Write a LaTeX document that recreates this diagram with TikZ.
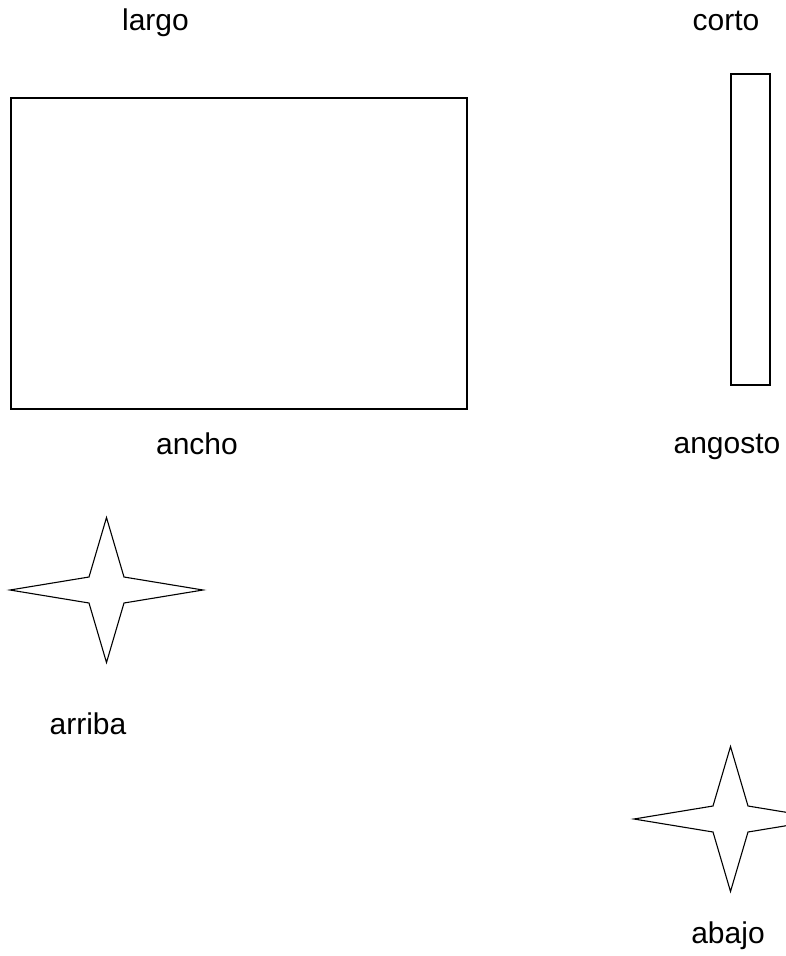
\documentclass[tikz,border=0pt]{standalone}
\usepackage{fontspec}
\setmainfont{Liberation Sans}
\usepackage{tikz}
\usetikzlibrary{positioning}
\tikzset{
  lbl/.style={anchor=base, inner sep=0pt, font=\fontsize{30}{36}\selectfont},
  shapeline/.style={draw=black, line width=1.1pt, line join=miter}
}

\begin{document}
\begin{tikzpicture}[x=1pt, y=-1pt]
        % Page frame
        \clip (0,0) rectangle (786,956);
        \fill[white] (0,0) rectangle (786,956);

        % largo / ancho
        \node[lbl] (largo) at (155.5, 30.5) {largo};
        \draw[shapeline] (11,98) rectangle (467,409);
        \node[lbl] (ancho) at (197, 454) {ancho};

        % corto / angosto
        \node[lbl] (corto) at (726, 30) {corto};
        \draw[shapeline] (731,74) rectangle (770,385);
        \node[lbl] (angosto) at (727, 453) {angosto};

        % Star - arriba
        \draw[shapeline, shift={(106.5,590)}] (0,-72.5) -- (17.5,-13) -- (96.5,0) -- (17.5,13) -- (0,72.5) -- (-17.5,13) -- (-96.5,0) -- (-17.5,-13) -- cycle;
        \node[lbl] (arriba) at (88, 734) {arriba};

        % Star - abajo
        \draw[shapeline, shift={(730.5,819)}] (0,-72.5) -- (17.5,-13) -- (96.5,0) -- (17.5,13) -- (0,72.5) -- (-17.5,13) -- (-96.5,0) -- (-17.5,-13) -- cycle;
        \node[lbl] (abajo) at (728, 943) {abajo};
    \end{tikzpicture}
\end{document}
